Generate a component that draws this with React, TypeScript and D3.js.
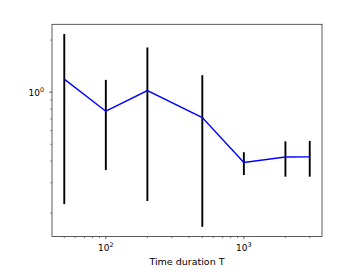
import * as d3 from "d3";
import { useEffect, useRef } from "react";

// durations T
const durations = [50, 100, 200, 500, 1000, 2000, 3000];
// mean value at each T
const means = [1.189, 0.776, 1.022, 0.713, 0.393, 0.422, 0.423];
// error bar ends
const lower = [0.2255, 0.355, 0.235, 0.1667, 0.332, 0.325, 0.325];
const upper = [2.17, 1.178, 1.813, 1.254, 0.45, 0.52, 0.523];

const xMajor = [100, 1000];
const yMajor = [1];
const xLabels = ["2", "3"];
const yLabels = ["0"];

export default function App() {
  const ref = useRef<SVGSVGElement | null>(null);

  useEffect(() => {
    const el = ref.current;
    if (!el) return;
    document.body.style.margin = "0";

    const svg = d3.select(el);
    svg.selectAll("*").remove();

    const W = 346;
    const H = 277;
    const margin = { top: 24.3, right: 24, bottom: 40.5, left: 52 };
    const iw = W - margin.left - margin.right;
    const ih = H - margin.top - margin.bottom;
    const font = "DejaVu Sans, sans-serif";

    // matplotlib-style 5% margins in log space
    const lx = durations.map(Math.log10);
    const xPad = (d3.max(lx)! - d3.min(lx)!) * 0.05;
    const ly = [...lower, ...upper].map(Math.log10);
    const yPad = (d3.max(ly)! - d3.min(ly)!) * 0.05;

    const x = d3
      .scaleLog()
      .domain([10 ** (d3.min(lx)! - xPad), 10 ** (d3.max(lx)! + xPad)])
      .range([0, iw]);
    const y = d3
      .scaleLog()
      .domain([10 ** (d3.min(ly)! - yPad), 10 ** (d3.max(ly)! + yPad)])
      .range([ih, 0]);

    const root = svg.attr("width", W).attr("height", H);
    const g = root
      .append("g")
      .attr("transform", `translate(${margin.left},${margin.top})`);

    // minor ticks
    const [x0, x1] = x.domain();
    const xMinor: number[] = [];
    for (let e = 1; e <= 3; e++)
      for (let m = 2; m <= 9; m++) {
        const v = m * 10 ** e;
        if (v >= x0 && v <= x1) xMinor.push(v);
      }
    const [y0, y1] = y.domain();
    const yMinor: number[] = [];
    for (let e = -2; e <= 0; e++)
      for (let m = 2; m <= 9; m++) {
        const v = m * 10 ** e;
        if (v >= y0 && v <= y1) yMinor.push(v);
      }

    const tickColor = "#222";

    g.selectAll("line.xminor")
      .data(xMinor)
      .join("line")
      .attr("x1", (d) => x(d))
      .attr("x2", (d) => x(d))
      .attr("y1", ih)
      .attr("y2", ih + 1.6)
      .attr("stroke", tickColor)
      .attr("stroke-width", 0.6);
    g.selectAll("line.xmajor")
      .data(xMajor)
      .join("line")
      .attr("x1", (d) => x(d))
      .attr("x2", (d) => x(d))
      .attr("y1", ih)
      .attr("y2", ih + 2.7)
      .attr("stroke", tickColor)
      .attr("stroke-width", 0.7);
    g.selectAll("line.yminor")
      .data(yMinor)
      .join("line")
      .attr("x1", -1.6)
      .attr("x2", 0)
      .attr("y1", (d) => y(d))
      .attr("y2", (d) => y(d))
      .attr("stroke", tickColor)
      .attr("stroke-width", 0.6);
    g.selectAll("line.ymajor")
      .data(yMajor)
      .join("line")
      .attr("x1", -2.7)
      .attr("x2", 0)
      .attr("y1", (d) => y(d))
      .attr("y2", (d) => y(d))
      .attr("stroke", tickColor)
      .attr("stroke-width", 0.7);

    // tick labels
    const xt = g
      .selectAll("text.xt")
      .data(xMajor)
      .join("text")
      .attr("x", (d) => x(d))
      .attr("y", ih + 14.5)
      .attr("text-anchor", "middle")
      .attr("font-family", font)
      .attr("font-size", 9)
      .attr("fill", "#000");
    xt.append("tspan").text("10");
    xt.append("tspan")
      .attr("dy", -3.6)
      .attr("font-size", 6.4)
      .text((_, i) => xLabels[i]);

    const yt = g
      .selectAll("text.yt")
      .data(yMajor)
      .join("text")
      .attr("x", -8)
      .attr("y", (d) => y(d) + 3.6)
      .attr("text-anchor", "end")
      .attr("font-family", font)
      .attr("font-size", 9)
      .attr("fill", "#000");
    yt.append("tspan").text("10");
    yt.append("tspan")
      .attr("dy", -3.6)
      .attr("font-size", 6.4)
      .text((_, i) => yLabels[i]);

    // error bars
    g.selectAll("line.err")
      .data(durations)
      .join("line")
      .attr("x1", (d) => x(d))
      .attr("x2", (d) => x(d))
      .attr("y1", (_, i) => y(lower[i]))
      .attr("y2", (_, i) => y(upper[i]))
      .attr("stroke", "#000")
      .attr("stroke-width", 1.9);

    // mean line
    const line = d3
      .line<number>()
      .x((d) => x(d))
      .y((_, i) => y(means[i]));
    g.append("path")
      .datum(durations)
      .attr("d", line)
      .attr("fill", "none")
      .attr("stroke", "#0000ff")
      .attr("stroke-width", 1.4);

    // frame
    g.append("rect")
      .attr("width", iw)
      .attr("height", ih)
      .attr("fill", "none")
      .attr("stroke", "#333")
      .attr("stroke-width", 0.8);

    g.append("text")
      .attr("x", iw / 2)
      .attr("y", ih + 28.7)
      .attr("text-anchor", "middle")
      .attr("font-family", font)
      .attr("font-size", 9.5)
      .attr("fill", "#000")
      .text("Time duration T");
  }, []);

  return (
    <svg
      ref={ref}
      style={{ position: "absolute", top: 0, left: 0, display: "block" }}
    />
  );
}
